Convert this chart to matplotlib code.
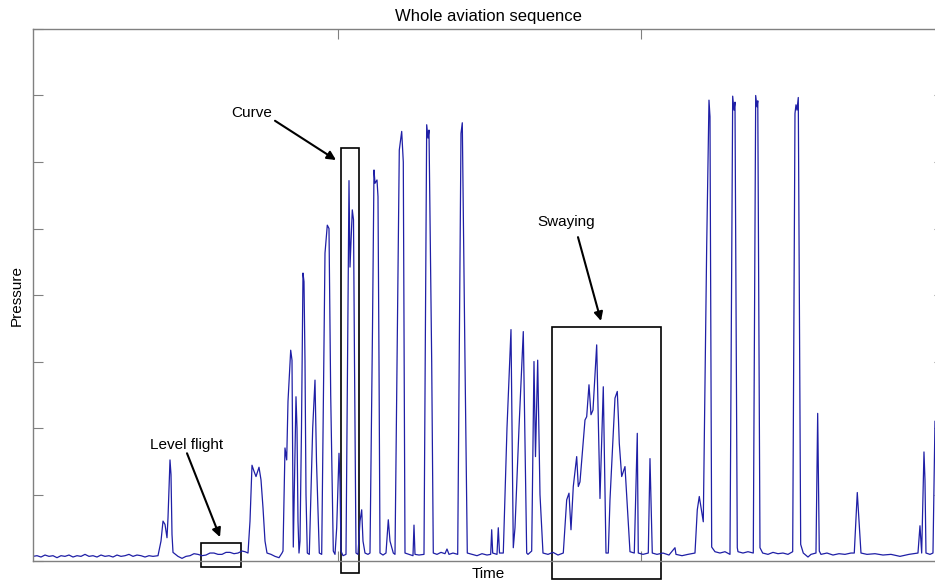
import matplotlib
matplotlib.use("Agg")
import matplotlib.pyplot as plt
from matplotlib.patches import Rectangle

plt.rcParams['font.family'] = ['Liberation Sans', 'DejaVu Sans']

# time (unlabelled units) and pressure (0..8 scale)
time = [-2, 2, 6, 10, 14, 18, 22, 26, 30, 34, 38, 42, 46, 50, 54, 58, 62, 66, 70,
        74, 78, 82, 86, 90, 94, 98, 102, 106, 110, 114, 118, 123,
        126, 128, 130, 132, 133, 135, 136, 137, 138, 143, 147, 151, 155, 159, 163,
        167, 171, 175, 179, 183, 187, 191, 195, 199, 203, 207, 210, 213, 215, 217,
        219, 221, 224, 226, 228, 230, 232, 236,
        240, 244, 247, 248, 250, 251.7, 253, 255.7, 257, 258.3, 259.5, 261, 262,
        263, 264, 265, 266.5, 268, 269, 270, 271, 272.3, 274.3, 277.7, 280, 281.5,
        284.3, 286.7, 290, 292.3, 294, 295.7, 298.3, 300, 301.7, 304, 305, 306, 308,
        311, 314, 315, 317.3, 318.5, 319.5, 321, 323, 325, 326.7, 328, 330, 333,
        335, 337.5, 339, 340, 342, 343, 344, 345, 348, 351, 353.3, 355, 358.3, 360,
        364.3, 366.7, 368.3, 370, 374, 378, 379, 380, 384, 389, 391.7, 393, 394,
        396.7, 398.3, 402, 406, 410, 412, 414, 418, 422.7, 426, 427.3, 430, 432.3,
        437, 442, 447, 452, 455.7, 456.7, 457.7, 462, 463.3, 464.5, 468.3, 472, 476,
        478.3, 480, 484, 488.3, 491.7, 493, 496.7, 499, 500.5, 502.7, 505, 508, 513,
        518, 523, 528.3, 531.7, 534, 536, 538.3, 541.7, 543.3, 545, 550, 551.7, 554,
        556, 558, 561.7, 565, 568.3, 571, 573.3, 575, 580, 582.3, 583.5, 584.3,
        586.7, 590, 592.3, 595, 599.3, 602.3, 603.3, 608, 613.3, 615, 617.3, 622,
        628, 634, 640, 641, 647, 653, 660, 662.3, 664.3, 668.3, 671.7, 674, 675,
        676.7, 680, 685, 690, 695, 697.7, 699, 700, 702.3, 703, 708, 713, 718.3,
        720.7, 722, 722.8, 725, 727.7, 733, 738, 743, 748, 753, 757.7, 760, 761, 762,
        763.3, 765.7, 768.3, 773, 776, 781, 782.7, 784.3, 786, 792, 798, 804, 810,
        816, 819.3, 822.3, 826, 832, 840, 848, 856, 865, 874, 883, 885, 886.7, 889,
        890, 891, 895, 898, 900]
pressure = [0.07, 0.08, 0.06, 0.09, 0.07, 0.08, 0.05, 0.08, 0.07, 0.09, 0.06, 0.08,
            0.07, 0.10, 0.07, 0.08, 0.06, 0.09, 0.07, 0.08, 0.06, 0.09, 0.07, 0.08,
            0.10, 0.07, 0.09, 0.08, 0.06, 0.08, 0.07, 0.08,
            0.30, 0.60, 0.55, 0.35, 0.65, 1.52, 1.30, 0.40, 0.13, 0.07, 0.04, 0.07,
            0.08, 0.11, 0.10, 0.08, 0.09, 0.12, 0.12, 0.10, 0.10, 0.13, 0.13, 0.11,
            0.12, 0.15, 0.14, 0.12, 0.60, 1.44, 1.35, 1.27, 1.41, 1.22, 0.80, 0.30,
            0.12, 0.10, 0.07,
            0.05, 0.12, 0.15, 1.70, 1.52, 2.40, 3.17, 3.02, 0.21, 1.20, 2.47, 2.00,
            0.60, 0.12, 0.30, 2.00, 4.33, 4.20, 3.00, 1.00, 0.12, 0.10, 2.00, 2.72,
            1.50, 0.12, 0.10, 4.63, 5.05, 5.00, 2.50, 0.15, 0.10, 0.50, 1.62, 1.20,
            0.15, 0.08, 0.10, 5.72, 4.42, 5.28, 5.13, 3.00, 0.12, 0.10, 0.60, 0.77,
            0.30, 0.12, 0.10, 0.12, 3.50, 5.88, 5.68, 5.73, 5.48, 3.00, 0.12, 0.09,
            0.12, 0.62, 0.30, 0.12, 0.10, 6.18, 6.46, 6.00, 0.12, 0.10, 0.08, 0.54,
            0.10, 0.09, 0.10, 6.56, 6.36, 6.48, 3.00, 0.12, 0.10, 0.13, 0.11, 0.18,
            0.10, 0.12, 0.10, 6.43, 6.59, 3.00, 0.12, 0.10, 0.08, 0.11, 0.09, 0.10,
            0.47, 0.12, 0.10, 0.50, 0.12, 0.12, 2.00, 3.48, 0.20, 0.50, 2.00, 3.45,
            0.12, 0.10, 0.15, 3.00, 1.57, 3.02, 1.00, 0.12, 0.10, 0.13, 0.09, 0.12,
            0.92, 1.02, 0.47, 1.12, 1.57, 1.12, 1.19, 2.12, 2.17, 2.65, 2.20, 2.27,
            3.25, 0.94, 2.62, 0.12, 0.12, 0.92, 2.45, 2.55, 2.12, 1.77, 1.27, 1.42,
            0.82, 0.14, 0.12, 1.92, 0.12, 0.10, 0.12, 1.54, 0.12, 0.10, 0.12, 0.09,
            0.20, 0.10, 0.08, 0.10, 0.12, 0.77, 0.97, 0.59, 4.73, 6.93, 6.68, 0.21,
            0.14, 0.12, 0.14, 0.10, 6.99, 6.78, 6.90, 0.20, 0.14, 0.12, 0.14, 0.12,
            7.00, 6.83, 6.92, 0.20, 0.12, 0.10, 0.13, 0.11, 0.12, 0.10, 0.14, 6.73,
            6.86, 6.78, 6.97, 0.25, 0.12, 0.06, 0.10, 0.12, 2.22, 0.15, 0.10, 0.12,
            0.09, 0.11, 0.10, 0.12, 0.12, 1.03, 0.12, 0.10, 0.11, 0.09, 0.10, 0.07,
            0.10, 0.12, 0.53, 0.12, 1.64, 1.22, 0.12, 0.10, 0.12, 2.10]

# annotations: label, text position, arrow tail, arrow head, box (t0, v0, width, height)
labels = ["Level flight", "Curve", "Swaying"]
text_pos = [(152, 1.74), (217, 6.74), (531, 5.10)]
arrow_tail = [(152, 1.62), (240, 6.62), (543, 4.87)]
arrow_head = [(185, 0.36), (301, 6.03), (566, 3.61)]
boxes = [(166, -0.086, 39.7, 0.36), (306, -0.18, 18.3, 6.39), (517.3, -0.275, 108.7, 3.795)]

fig = plt.figure(figsize=(9.35, 5.81), dpi=100)
ax = fig.add_axes([0.0353, 0.0344, 0.9743, 0.9157])

ax.plot(time, pressure, color='#1f1fa6', lw=0.9)

ax.set_xlim(-2, 909)
ax.set_ylim(0, 8)
ax.set_xticks([303, 606, 909])
ax.set_yticks(range(9))
ax.set_xticklabels([])
ax.set_yticklabels([])
ax.tick_params(direction='in', length=7, color='#808080', top=True, right=True)
for s in ax.spines.values():
    s.set_color('#808080')
    s.set_linewidth(1.0)

ax.set_title("Whole aviation sequence", fontsize=12, pad=6)
ax.set_xlabel("Time", fontsize=11, labelpad=1)
ax.set_ylabel("Pressure", fontsize=11, labelpad=3)

for i in range(len(labels)):
    ax.text(text_pos[i][0], text_pos[i][1], labels[i], fontsize=11,
            ha='center', va='center')
    ax.annotate("", xy=arrow_head[i], xytext=arrow_tail[i],
                arrowprops=dict(arrowstyle='-|>', color='k', lw=1.5,
                                mutation_scale=13, shrinkA=0, shrinkB=0),
                annotation_clip=False)
    t0, v0, w, h = boxes[i]
    ax.add_patch(Rectangle((t0, v0), w, h, fill=False, ec='k', lw=1.2,
                           clip_on=False))

fig.savefig("out.png", dpi=100)
